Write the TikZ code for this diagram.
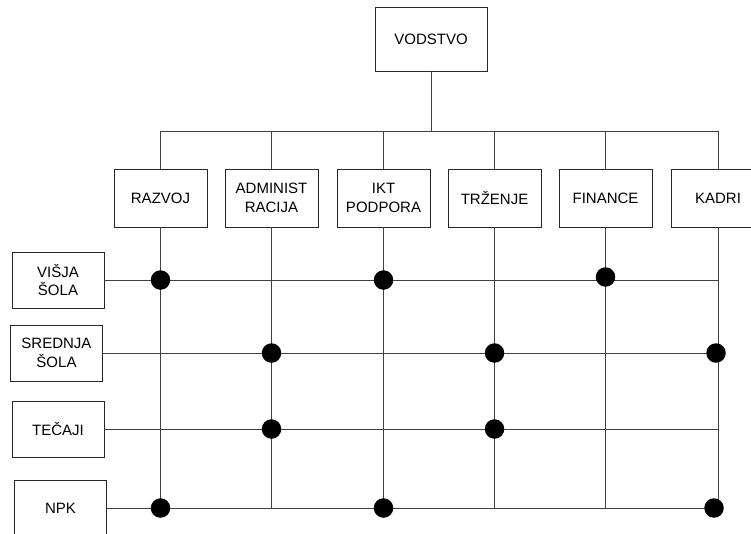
\documentclass[tikz,border=0pt]{standalone}
\usepackage{fontspec}
\setmainfont{Liberation Sans}
\begin{document}
\begin{tikzpicture}[x=1pt,y=-1pt,
  box/.style={draw=black!85, line width=0.8pt, minimum width=93pt, minimum height=58pt, inner sep=0pt, align=center, font=\fontsize{15}{18.5}\selectfont},
  lbox/.style={box, minimum width=92pt, minimum height=56pt},
  ln/.style={line width=0.9pt, draw=black!75},
  dot/.style={circle, fill=black, draw=none, minimum size=19.5pt, inner sep=0pt}]
\clip (0,0) rectangle (751,533);
\fill[white] (0,0) rectangle (751,533);
% top
\node[box, minimum width=112pt, minimum height=64pt] (vod) at (431,39) {VODSTVO};
% department boxes
\node[box] (raz) at (160.5,198) {RAZVOJ};
\node[box] (adm) at (271.5,198) {ADMINIST\\RACIJA};
\node[box] (ikt) at (383.5,198) {IKT\\PODPORA};
\node[box] (trz) at (494.5,198) {TRŽENJE};
\node[box] (fin) at (605.5,198) {FINANCE};
\node[box] (kad) at (718,198) {KADRI};
% left boxes
\node[lbox] (vis) at (58,280) {VIŠJA\\ŠOLA};
\node[lbox] (sre) at (56.5,353) {SREDNJA\\ŠOLA};
\node[lbox] (tec) at (58,429) {TEČAJI};
\node[lbox] (npk) at (60.5,508) {NPK};
% bus
\coordinate (busL) at (160.5,131);
\coordinate (busR) at (718,131);
\coordinate (bot) at (0,508);
\draw[ln] (busL) -- (busR);
\draw[ln] (vod.south) -- (vod.south |- busL);
\foreach \n in {raz,adm,ikt,trz,fin,kad}{
  \draw[ln] (\n.north) -- (\n.north |- busL);
  \draw[ln] (\n.south) -- (\n.south |- bot);
}
\foreach \n in {vis,sre,tec,npk}{
  \draw[ln] (\n.east) -- (\n.east -| kad.south);
}
% dots
\node[dot] (d1) at (raz.south |- vis.east) {};
\node[dot] (d2) at (ikt.south |- vis.east) {};
\node[dot] (d3) at ([yshift=3pt]fin.south |- vis.east) {};
\node[dot] (d4) at (adm.south |- sre.east) {};
\node[dot] (d5) at (trz.south |- sre.east) {};
\node[dot] (d6) at ([xshift=-2pt]kad.south |- sre.east) {};
\node[dot] (d7) at (adm.south |- tec.east) {};
\node[dot] (d8) at (trz.south |- tec.east) {};
\node[dot] (d9) at (raz.south |- npk.east) {};
\node[dot] (d10) at (ikt.south |- npk.east) {};
\node[dot] (d11) at ([xshift=-4pt]kad.south |- npk.east) {};
\end{tikzpicture}
\end{document}
